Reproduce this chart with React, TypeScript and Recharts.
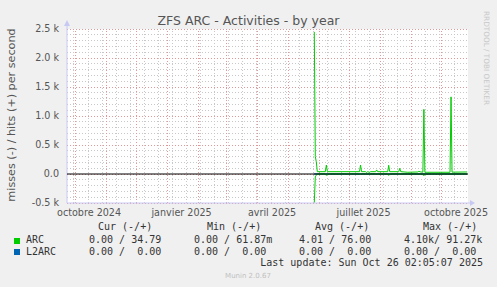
import React from 'react';
import { LineChart, Line, XAxis, YAxis, ReferenceLine } from 'recharts';

// daily samples (only the days where the curve changes are listed)
const dates = [
  '2025-05-27', '2025-05-28', '2025-05-29', '2025-05-30',
  '2025-06-07', '2025-06-08', '2025-06-09',
  '2025-07-11', '2025-07-12', '2025-07-13',
  '2025-07-17', '2025-07-18', '2025-07-19', '2025-07-21', '2025-07-22',
  '2025-07-27', '2025-07-28', '2025-07-29',
  '2025-08-08', '2025-08-09', '2025-08-10',
  '2025-08-19', '2025-08-20', '2025-08-21',
  '2025-08-28', '2025-09-07', '2025-09-08', '2025-09-10',
  '2025-09-12', '2025-09-13', '2025-09-14',
  '2025-10-09', '2025-10-10', '2025-10-11', '2025-10-26',
];
const arcHits = [
  2450, 300, 210, 40,
  40, 155, 40,
  40, 155, 40,
  40, 25, 40, 30, 40,
  40, 70, 40,
  40, 150, 40,
  40, 98, 40,
  30, 35, 45, 35,
  32, 1115, 30,
  30, 1330, 32, 35,
];
const arcMisses = [
  -495, -50, -20, 0,
  0, -25, 0,
  0, 0, 0,
  0, 0, 0, 0, 0,
  0, 0, 0,
  0, -25, 0,
  0, 0, 0,
  0, 0, 0, 0,
  0, -30, 0,
  0, 0, 0, 0,
];
const l2arcHits = dates.map(() => 0);
const l2arcMisses = dates.map(() => 0);

const xStart = '2024-09-23T01:00:00Z';
const xEnd = '2025-10-26T21:00:00Z';
const xTickDates = ['2024-10-15', '2025-01-15', '2025-04-15', '2025-07-15', '2025-10-15'];
const xTickLabels = ['octobre 2024', 'janvier 2025', 'avril 2025', 'juillet 2025', 'octobre 2025'];
const monthStarts = [
  '2024-10-01', '2024-11-01', '2024-12-01', '2025-01-01', '2025-02-01', '2025-03-01', '2025-04-01',
  '2025-05-01', '2025-06-01', '2025-07-01', '2025-08-01', '2025-09-01', '2025-10-01',
];
const minorDates = [
  '2024-09-30', '2024-10-14', '2024-10-28', '2024-11-11', '2024-11-25', '2024-12-09', '2024-12-23',
  '2025-01-06', '2025-01-20', '2025-02-03', '2025-02-17', '2025-03-03', '2025-03-17', '2025-03-31',
  '2025-04-14', '2025-04-28', '2025-05-12', '2025-05-26', '2025-06-09', '2025-06-23', '2025-07-07',
  '2025-07-21', '2025-08-04', '2025-08-18', '2025-09-01', '2025-09-15', '2025-09-29', '2025-10-13',
];
const yTicks = [-500, 0, 500, 1000, 1500, 2000, 2500];
const yTickLabels = ['-0.5 k', '0.0', '0.5 k', '1.0 k', '1.5 k', '2.0 k', '2.5 k'];
const yMinor = [-400, -300, -200, -100, 100, 200, 300, 400, 600, 700, 800, 900, 1100, 1200, 1300, 1400,
  1600, 1700, 1800, 1900, 2100, 2200, 2300, 2400];

const legendHeader = ['Cur (-/+)', 'Min (-/+)', 'Avg (-/+)', 'Max (-/+)'];
const legendRows = [
  { name: 'ARC', color: '#00cc00', values: ['0.00 / 34.79', '0.00 / 61.87m', '4.01 / 76.00', '4.10k/ 91.27k'] },
  { name: 'L2ARC', color: '#0066b3', values: ['0.00 /  0.00', '0.00 /  0.00', '0.00 /  0.00', '0.00 /  0.00'] },
];

const ts = (s: string) => Date.parse(s.length === 10 ? s + 'T00:00:00Z' : s);

const data = dates.map((d, i) => ({
  t: ts(d),
  hits: arcHits[i],
  misses: arcMisses[i],
  l2hits: l2arcHits[i],
  l2misses: l2arcMisses[i],
}));

const tickColor = '#555';
const textColor = '#333';
const mono = '"DejaVu Sans Mono", monospace';
const headerX = [98, 207, 315, 423];
const valueX = [89, 194, 299, 404];
const minorGrid = '#c8c8c8';
const majorGrid = '#e09898';
const axisColor = '#c8c8f4';
const chartMargin = { top: 29, right: 29, bottom: 0, left: 0 };
const xDomain = [ts(xStart), ts(xEnd)];
const yDomain = [-500, 2500];

// second chart on top of the first: same plot box, only the black zero rule
function ZeroRule() {
  return (
    <LineChart width={497} height={225} data={data} margin={chartMargin}>
      <XAxis dataKey="t" type="number" domain={xDomain} allowDataOverflow height={22} tick={false} tickLine={false} axisLine={false} />
      <YAxis type="number" domain={yDomain} allowDataOverflow width={67} tick={false} tickLine={false} axisLine={false} />
      <ReferenceLine y={0} stroke="#000000" strokeWidth={1} />
    </LineChart>
  );
}

export default function App() {
  return (
    <div style={{ position: 'fixed', left: 0, top: 0, width: 497, height: 287, background: '#f0f0f0', fontFamily: '"DejaVu Sans", sans-serif', overflow: 'hidden' }}>
      <div style={{ position: 'absolute', left: 67, top: 29, width: 401, height: 174, background: '#ffffff' }} />
      <div style={{ position: 'absolute', left: 248.5, top: 20, transform: 'translate(-50%, -50%)', fontSize: 12.5, color: '#555', whiteSpace: 'nowrap' }}>
        ZFS ARC - Activities - by year
      </div>
      <div style={{ position: 'absolute', left: 11, top: 115, transform: 'translate(-50%, -50%) rotate(-90deg)', fontSize: 11.2, color: '#555', whiteSpace: 'nowrap' }}>
        misses (-) / hits (+) per second
      </div>
      <div style={{ position: 'absolute', left: 485.5, top: 58, transform: 'translate(-50%, -50%) rotate(90deg)', fontSize: 7.3, color: '#c8c8c8', whiteSpace: 'nowrap' }}>
        RRDTOOL / TOBI OETIKER
      </div>
      <div style={{ position: 'absolute', left: 0, top: 0 }}>
        <LineChart width={497} height={225} data={data} margin={chartMargin}>
          {minorDates.map((d) => (
            <ReferenceLine key={'vm' + d} x={ts(d)} stroke={minorGrid} strokeDasharray="1 2" shapeRendering="crispEdges" />
          ))}
          {yMinor.map((v) => (
            <ReferenceLine key={'hm' + v} y={v} stroke={minorGrid} strokeDasharray="1 2" shapeRendering="crispEdges" />
          ))}
          {monthStarts.map((d) => (
            <ReferenceLine key={'vM' + d} x={ts(d)} stroke={majorGrid} strokeDasharray="1 2" shapeRendering="crispEdges" />
          ))}
          {yTicks.map((v) => (
            <ReferenceLine key={'hM' + v} y={v} stroke={majorGrid} strokeDasharray="1 2" shapeRendering="crispEdges" />
          ))}
          <XAxis
            dataKey="t"
            type="number"
            domain={xDomain}
            allowDataOverflow
            ticks={xTickDates.map(ts)}
            tickFormatter={(v: number) => xTickLabels[xTickDates.map(ts).indexOf(v)]}
            height={22}
            tickLine={false}
            tickSize={4}
            tickMargin={2}
            axisLine={{ stroke: axisColor }}
            tick={{ fill: tickColor, fontSize: 9.6, fontFamily: '"DejaVu Sans"' }}
            interval={0}
          />
          <YAxis
            type="number"
            domain={yDomain}
            allowDataOverflow
            ticks={yTicks}
            tickFormatter={(v: number) => yTickLabels[yTicks.indexOf(v)]}
            width={67}
            tickLine={false}
            axisLine={{ stroke: axisColor }}
            tick={{ fill: tickColor, fontSize: 9.6, fontFamily: '"DejaVu Sans"' }}
            interval={0}
          />
          <Line dataKey="l2misses" type="linear" stroke="#0066b3" strokeWidth={1} dot={false} isAnimationActive={false} />
          <Line dataKey="l2hits" type="linear" stroke="#0066b3" strokeWidth={1} dot={false} isAnimationActive={false} />
          <Line dataKey="misses" type="linear" stroke="#00cc00" strokeWidth={1} dot={false} isAnimationActive={false} />
          <Line dataKey="hits" type="linear" stroke="#00cc00" strokeWidth={1} dot={false} isAnimationActive={false} />
        </LineChart>
      </div>
      <div style={{ position: 'absolute', left: 0, top: 0, pointerEvents: 'none' }}>
        <ZeroRule />
      </div>
      <svg width={497} height={287} style={{ position: 'absolute', left: 0, top: 0, pointerEvents: 'none' }}>
        <line x1={67} y1={29} x2={67} y2={23} stroke={axisColor} />
        <polygon points="64,26 70,26 67,20" fill={axisColor} />
        <line x1={468} y1={203} x2={471} y2={203} stroke={axisColor} />
        <polygon points="470,200 470,206 475,203" fill={axisColor} />
      </svg>
      {legendHeader.map((h, i) => (
        <div key={h} style={{ position: 'absolute', left: headerX[i], top: 220.5, fontFamily: mono, fontSize: 10, lineHeight: '12px', color: textColor, whiteSpace: 'pre' }}>
          {h}
        </div>
      ))}
      {legendRows.map((r, j) => (
        <React.Fragment key={r.name}>
          <div style={{ position: 'absolute', left: 14, top: 237.5 + j * 11.7, width: 6, height: 6, background: r.color }} />
          <div style={{ position: 'absolute', left: 26, top: 234 + j * 11.7, fontFamily: mono, fontSize: 10, lineHeight: '12px', color: textColor, whiteSpace: 'pre' }}>
            {r.name}
          </div>
          {r.values.map((v, i) => (
            <div key={i} style={{ position: 'absolute', left: valueX[i], top: 234 + j * 11.7, fontFamily: mono, fontSize: 10, lineHeight: '12px', color: textColor, whiteSpace: 'pre' }}>
              {v}
            </div>
          ))}
        </React.Fragment>
      ))}
      <div style={{ position: 'absolute', right: 14, top: 257.3, fontFamily: mono, fontSize: 10, lineHeight: '12px', color: textColor, whiteSpace: 'pre' }}>
        Last update: Sun Oct 26 02:05:07 2025
      </div>
      <div style={{ position: 'absolute', left: 248, top: 276, transform: 'translate(-50%, -50%)', fontSize: 7, color: '#c0c0c0', whiteSpace: 'nowrap' }}>
        Munin 2.0.67
      </div>
    </div>
  );
}
